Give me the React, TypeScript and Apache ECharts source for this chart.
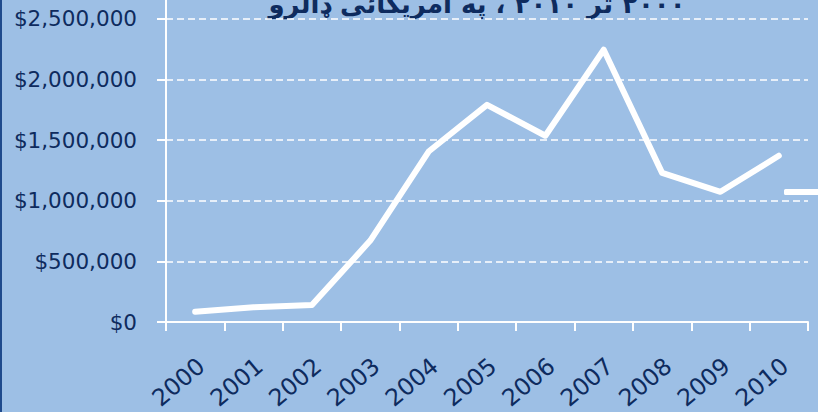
import React, { useEffect, useRef } from "react";
import * as echarts from "echarts";

const years = ["2000", "2001", "2002", "2003", "2004", "2005", "2006", "2007", "2008", "2009", "2010"];
const values = [85000, 121000, 140000, 671000, 1405000, 1790000, 1535000, 2244000, 1229000, 1073000, 1370000];
const seriesName = "ارزښت";
const titleText = "\u202B۲۰۰۰ تر ۲۰۱۰ ، په امریکائی ډالرو\u202C";

const navy = "#0E2B5E";
const bg = "#9DBFE5";
const OFF = 42; // chart canvas extends above the visible frame

export default function App() {
  const ref = useRef<HTMLDivElement>(null);
  useEffect(() => {
    document.body.style.margin = "0";
    const chart = echarts.init(ref.current!, null, { renderer: "svg" });
    chart.setOption({
      animation: false,
      backgroundColor: bg,
      grid: { left: 164, right: 10, top: 0, bottom: 90, containLabel: false, outerBoundsMode: "none" },
      graphic: [
        {
          type: "text",
          x: 475,
          y: OFF - 9,
          style: {
            text: titleText,
            fill: navy,
            font: "bold 26px 'DejaVu Sans'",
            textAlign: "center",
            textVerticalAlign: "top",
          },
        },
      ],
      legend: {
        left: 782,
        top: OFF + 189,
        padding: 0,
        itemWidth: 44,
        itemHeight: 6,
        icon: "roundRect",
        data: [{ name: seriesName, itemStyle: { color: "#fff" } }],
        formatter: () => "",
        textStyle: { color: navy, fontSize: 6, lineHeight: 6 },
      },
      xAxis: {
        type: "category",
        data: years,
        boundaryGap: true,
        axisLine: { lineStyle: { color: "#fff", width: 2 } },
        axisTick: { show: true, length: 9, lineStyle: { color: "#fff", width: 2 } },
        axisLabel: {
          rotate: 40,
          interval: 0,
          margin: 46,
          padding: [0, -8, 0, 0],
          color: navy,
          fontFamily: "DejaVu Sans",
          fontSize: 23.5,
        },
        splitLine: { show: false },
      },
      yAxis: {
        type: "value",
        min: 0,
        max: 3000000,
        interval: 500000,
        axisLine: { show: true, lineStyle: { color: "#fff", width: 2 } },
        axisTick: { show: true, length: 9, lineStyle: { color: "#fff", width: 2 } },
        axisLabel: {
          showMaxLabel: false,
          margin: 29,
          color: navy,
          fontFamily: "DejaVu Sans",
          fontSize: 21.5,
          formatter: (v: number) => "$" + v.toLocaleString("en-US"),
        },
        splitLine: { show: true, lineStyle: { color: "#fff", width: 1.5, type: [7, 4] } },
      },
      series: [
        {
          name: seriesName,
          type: "line",
          data: values,
          symbol: "none",
          lineStyle: { color: "#fff", width: 6, cap: "round", join: "round" },
          itemStyle: { color: "#fff" },
        },
      ],
    });
    return () => chart.dispose();
  }, []);
  return (
    <div
      style={{
        position: "relative",
        width: 818,
        height: 412,
        overflow: "hidden",
        boxSizing: "border-box",
        borderLeft: "2px solid #1F4A8C",
        background: bg,
      }}
    >
      <div ref={ref} style={{ position: "absolute", left: 0, top: -OFF, width: 816, height: 412 + OFF }} />
    </div>
  );
}
